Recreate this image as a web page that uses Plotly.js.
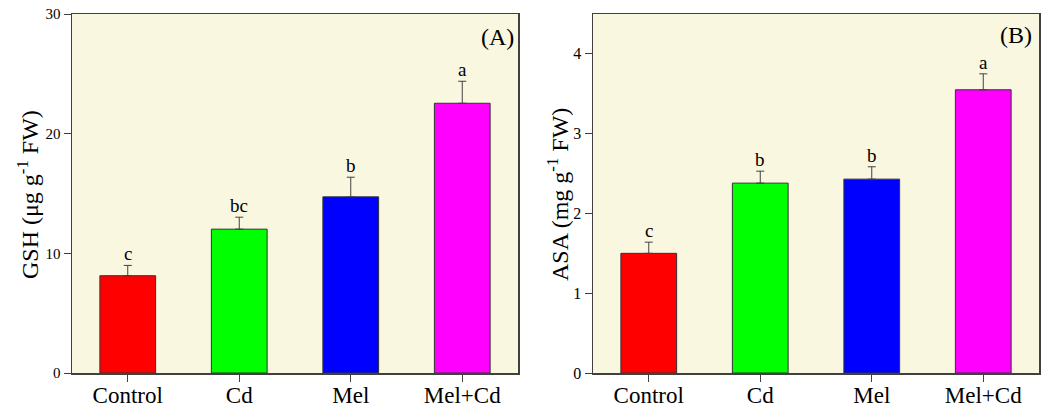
<!DOCTYPE html>
<html>
<head>
<meta charset="utf-8">
<script src="https://cdn.plot.ly/plotly-3.0.1.min.js"></script>
<style>html,body{margin:0;padding:0;background:#fff;}#chart{width:1051px;height:412px;}</style>
</head>
<body>
<div id="chart"></div>
<script>
const categories = ["Control", "Cd", "Mel", "Mel+Cd"];
const barColors = ["#FF0000", "#00FF00", "#0000FF", "#FF00FF"];
const gshValues = [8.13, 12.02, 14.72, 22.54];
const gshErrors = [0.86, 1.0, 1.64, 1.84];
const gshLetters = ["c", "bc", "b", "a"];
const asaValues = [1.50, 2.38, 2.43, 3.55];
const asaErrors = [0.14, 0.15, 0.155, 0.20];
const asaLetters = ["c", "b", "b", "a"];
const gshTicks = [0, 10, 20, 30];
const asaTicks = [0, 1, 2, 3, 4];

const serif = "Liberation Serif, Times New Roman, serif";
const axisColor = "#404040";

function barTrace(vals, errs, xa, ya) {
  return {
    type: "bar", x: categories, y: vals, xaxis: xa, yaxis: ya, width: 0.5,
    marker: {color: barColors, line: {color: "#333333", width: 1}},
    error_y: {type: "data", symmetric: false, array: errs, arrayminus: vals.map(() => 0),
              color: axisColor, thickness: 1, width: 4},
    hoverinfo: "none", showlegend: false
  };
}

const data = [
  barTrace(gshValues, gshErrors, "x", "y"),
  barTrace(asaValues, asaErrors, "x2", "y2")
];

const annotations = [];
categories.forEach((c, i) => {
  annotations.push({xref: "x", yref: "y", x: c, y: gshValues[i] + gshErrors[i], text: gshLetters[i],
    showarrow: false, yanchor: "bottom", yshift: -1, font: {family: serif, size: 19, color: "#000"}});
  annotations.push({xref: "x2", yref: "y2", x: c, y: asaValues[i] + asaErrors[i], text: asaLetters[i],
    showarrow: false, yanchor: "bottom", yshift: -1, font: {family: serif, size: 19, color: "#000"}});
});
annotations.push({xref: "paper", yref: "paper", x: 497/1051, y: 1 - (37 - 14) / 359, text: "(A)",
  showarrow: false, xanchor: "center", yanchor: "middle", font: {family: serif, size: 24, color: "#000"}});
annotations.push({xref: "paper", yref: "paper", x: 1016/1051, y: 1 - (35 - 14) / 359, text: "(B)",
  showarrow: false, xanchor: "center", yanchor: "middle", font: {family: serif, size: 24, color: "#000"}});
annotations.push({xref: "paper", yref: "paper", x: 28/1051, y: 1 - (195 - 14) / 359, text: "GSH (μg g<sup>-1</sup> FW)",
  textangle: -90, showarrow: false, xanchor: "center", yanchor: "middle", font: {family: serif, size: 24, color: "#000"}});
annotations.push({xref: "paper", yref: "paper", x: 558/1051, y: 1 - (195 - 14) / 359, text: "ASA (mg g<sup>-1</sup> FW)",
  textangle: -90, showarrow: false, xanchor: "center", yanchor: "middle", font: {family: serif, size: 24, color: "#000"}});

const xBase = {
  type: "category", range: [-0.5, 3.5], showline: true, linecolor: axisColor, linewidth: 1.5, mirror: true,
  ticks: "outside", ticklen: 7, tickcolor: axisColor, tickwidth: 1, showgrid: false, zeroline: false,
  ticklabelstandoff: -6,
  tickfont: {family: serif, size: 23, color: "#000"}
};
const yBase = {
  showline: true, linecolor: axisColor, linewidth: 1.5, mirror: true,
  ticks: "outside", ticklen: 7, tickcolor: axisColor, tickwidth: 1, showgrid: false, zeroline: false
};

const layout = {
  width: 1051, height: 412,
  margin: {l: 0, r: 0, t: 14, b: 39},
  paper_bgcolor: "#FFFFFF", plot_bgcolor: "#FAF7E1",
  xaxis: Object.assign({}, xBase, {domain: [72/1051, 518/1051], anchor: "y"}),
  yaxis: Object.assign({}, yBase, {range: [0, 30], tickvals: gshTicks, anchor: "x",
    tickfont: {family: serif, size: 15, color: "#000"}}),
  xaxis2: Object.assign({}, xBase, {domain: [593/1051, 1039/1051], anchor: "y2"}),
  yaxis2: Object.assign({}, yBase, {range: [0, 4.5], tickvals: asaTicks, anchor: "x2",
    tickfont: {family: serif, size: 16, color: "#000"}}),
  annotations: annotations,
  bargap: 0.5
};

Plotly.newPlot("chart", data, layout, {staticPlot: true, displayModeBar: false});
</script>
</body>
</html>
